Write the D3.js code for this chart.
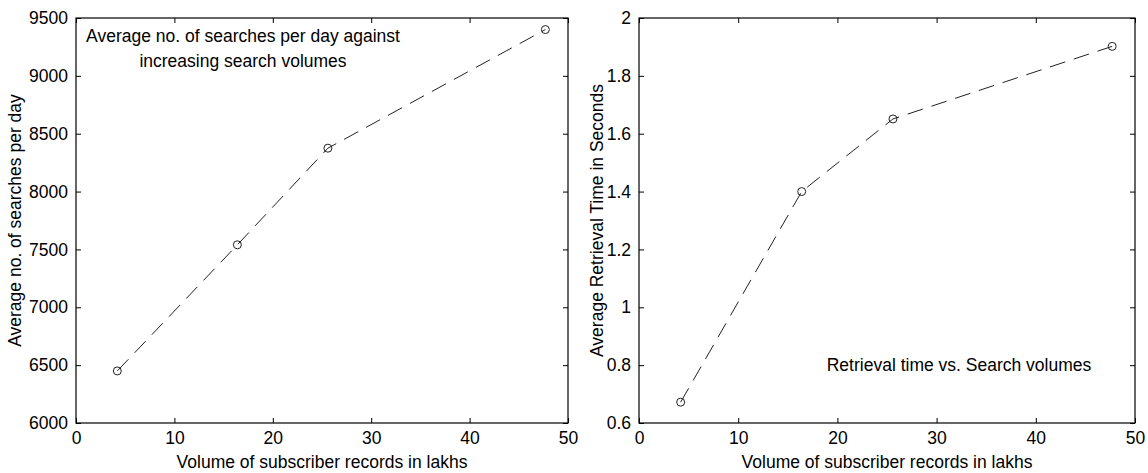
<!DOCTYPE html>
<html>
<head>
<meta charset="utf-8">
<script src="https://cdn.jsdelivr.net/npm/d3@7"></script>
<style>
  body { margin: 0; background: #fff; }
  svg { display: block; }
  text { font-family: "Liberation Sans", Arial, sans-serif; fill: #000; }
</style>
</head>
<body>
<svg id="chart" width="1148" height="473"></svg>
<script>
// ---- Data ----
const volumes = [4.2, 16.4, 25.6, 47.7];              // lakhs of subscriber records
const searchesPerDay = [6450, 7540, 8375, 9400];     // left chart
const retrievalTime = [0.672, 1.40, 1.651, 1.902];   // right chart (seconds)
const xTicks = [0, 10, 20, 30, 40, 50];
const leftYTicks = [6000, 6500, 7000, 7500, 8000, 8500, 9000, 9500];
const rightYTicks = [0.6, 0.8, 1, 1.2, 1.4, 1.6, 1.8, 2];
const xLabel = "Volume of subscriber records in lakhs";
const leftYLabel = "Average no. of searches per day";
const rightYLabel = "Average Retrieval Time in Seconds";
const leftTitle = ["Average no. of searches per day against", "increasing search volumes"];
const rightTitle = "Retrieval time vs. Search volumes";

const svg = d3.select("#chart");
const FS = 17.5;

function panel(cfg) {
  const g = svg.append("g");
  const x = d3.scaleLinear().domain([0, 50]).range([cfg.x0, cfg.x1]);
  const y = d3.scaleLinear().domain(cfg.yDomain).range([cfg.y1, cfg.y0]);
  const tl = 5;

  // box
  g.append("rect").attr("x", cfg.x0).attr("y", cfg.y0)
    .attr("width", cfg.x1 - cfg.x0).attr("height", cfg.y1 - cfg.y0)
    .attr("fill", "none").attr("stroke", "#000").attr("stroke-width", 1.2);

  // axes with inward ticks on all four sides
  const bx = g.append("g").attr("transform", `translate(0,${cfg.y1})`)
    .call(d3.axisBottom(x).tickValues(xTicks).tickSizeInner(-tl).tickSizeOuter(0).tickPadding(9).tickFormat(d3.format("d")));
  const tx = g.append("g").attr("transform", `translate(0,${cfg.y0})`)
    .call(d3.axisTop(x).tickValues(xTicks).tickSizeInner(-tl).tickSizeOuter(0).tickFormat(""));
  const ly = g.append("g").attr("transform", `translate(${cfg.x0},0)`)
    .call(d3.axisLeft(y).tickValues(cfg.yTicks).tickSizeInner(-tl).tickSizeOuter(0).tickPadding(8).tickFormat(cfg.fmt));
  const ry = g.append("g").attr("transform", `translate(${cfg.x1},0)`)
    .call(d3.axisRight(y).tickValues(cfg.yTicks).tickSizeInner(-tl).tickSizeOuter(0).tickFormat(""));
  [bx, tx, ly, ry].forEach(a => {
    a.select(".domain").remove();
    a.selectAll(".tick line").attr("stroke", "#000");
    a.selectAll("text").attr("font-size", FS).attr("font-family", "Liberation Sans, Arial, sans-serif").attr("fill", "#000");
  });

  // dashed line + circle markers
  const line = d3.line().x((d, i) => x(volumes[i])).y(d => y(d));
  g.append("path").datum(cfg.values).attr("d", line)
    .attr("fill", "none").attr("stroke", "#222").attr("stroke-width", 1)
    .attr("stroke-dasharray", "16,9");
  g.selectAll("circle.m").data(cfg.values).enter().append("circle")
    .attr("cx", (d, i) => x(volumes[i])).attr("cy", d => y(d)).attr("r", 4)
    .attr("fill", "none").attr("stroke", "#222").attr("stroke-width", 1);

  // axis labels
  g.append("text").attr("x", (cfg.x0 + cfg.x1) / 2).attr("y", 468)
    .attr("text-anchor", "middle").attr("font-size", FS).text(xLabel);
  g.append("text").attr("transform", `translate(${cfg.yLabelX},${(cfg.y0 + cfg.y1) / 2}) rotate(-90)`)
    .attr("text-anchor", "middle").attr("font-size", FS).text(cfg.yLabel);
  return { g, x, y };
}

const L = panel({ x0: 76, x1: 568, y0: 18, y1: 423, yDomain: [6000, 9500], yTicks: leftYTicks,
  fmt: d3.format("d"), values: searchesPerDay, yLabel: leftYLabel, yLabelX: 21 });
const R = panel({ x0: 639, x1: 1135, y0: 18, y1: 423, yDomain: [0.6, 2], yTicks: rightYTicks,
  fmt: d => String(+d.toFixed(1)), values: retrievalTime, yLabel: rightYLabel, yLabelX: 603 });

L.g.append("text").attr("x", 243).attr("y", 42).attr("text-anchor", "middle").attr("font-size", FS).text(leftTitle[0]);
L.g.append("text").attr("x", 243).attr("y", 67).attr("text-anchor", "middle").attr("font-size", FS).text(leftTitle[1]);
R.g.append("text").attr("x", 959).attr("y", R.y(0.8) + 6).attr("text-anchor", "middle").attr("font-size", FS).text(rightTitle);
</script>
</body>
</html>
